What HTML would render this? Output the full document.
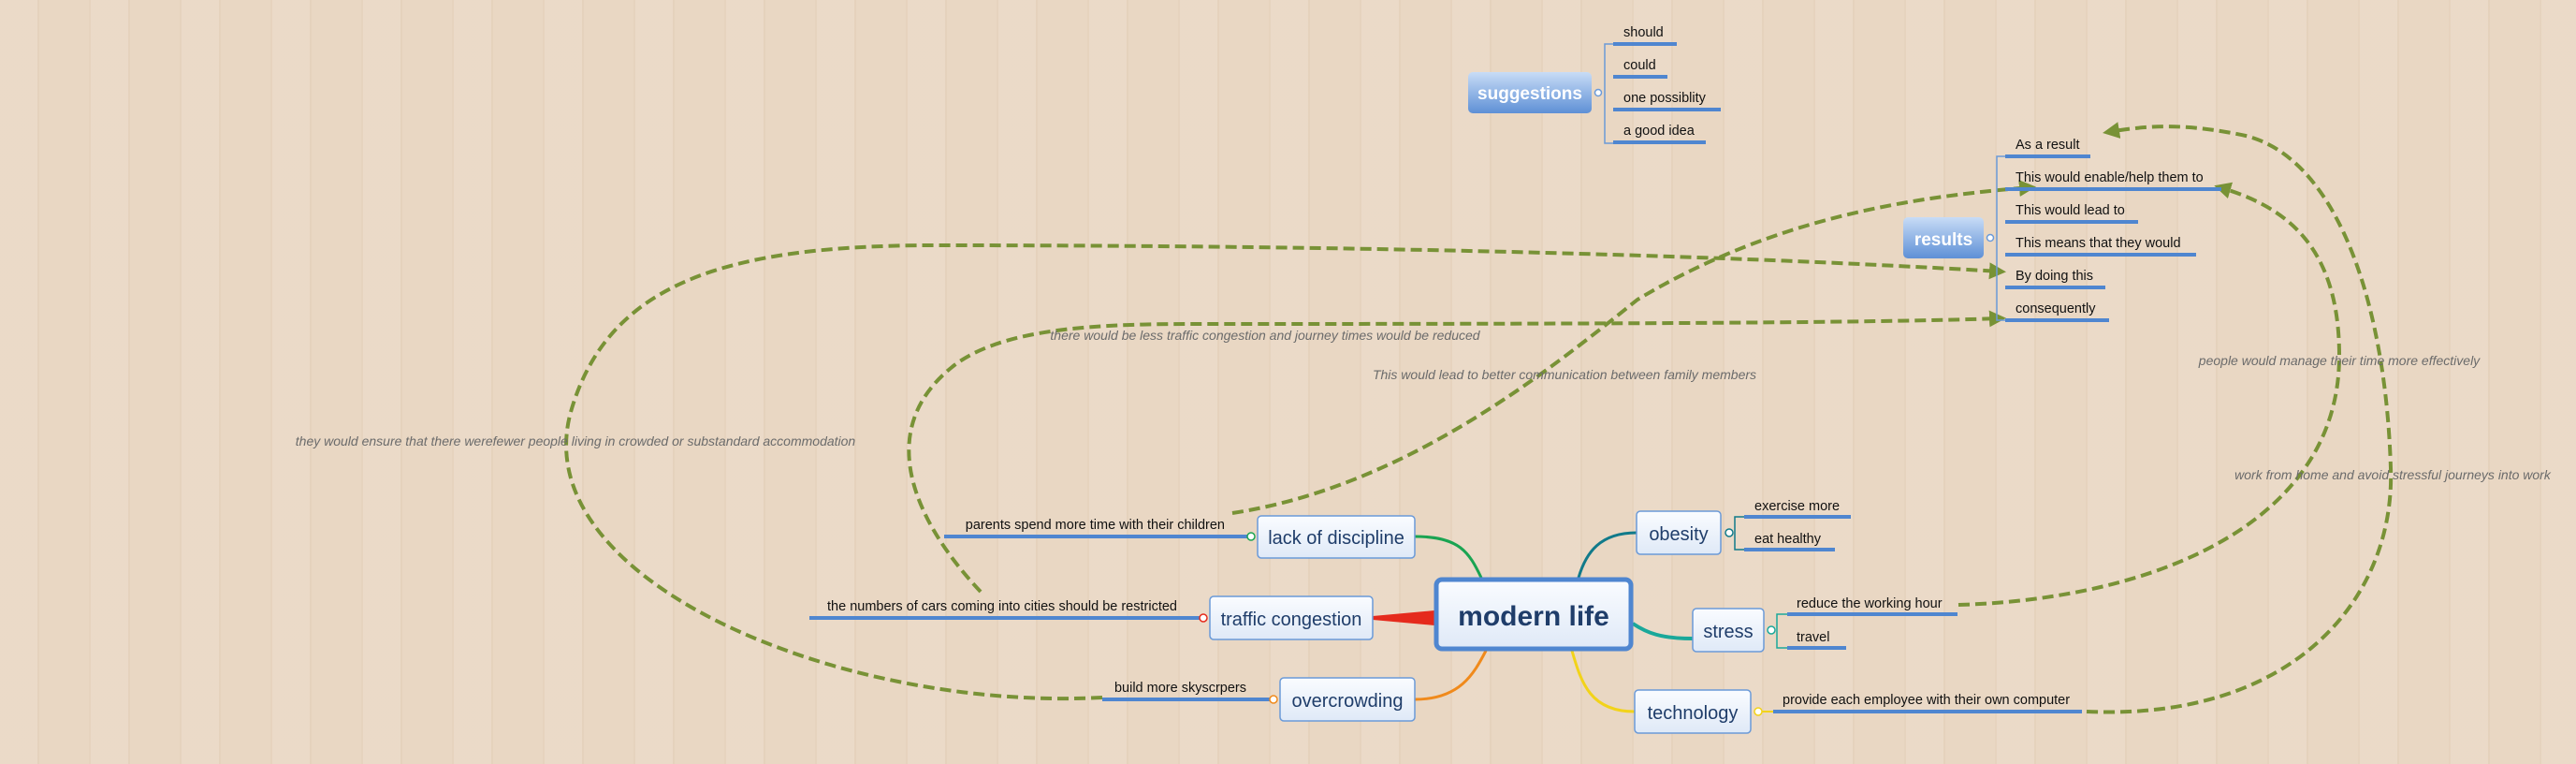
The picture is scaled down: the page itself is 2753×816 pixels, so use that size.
<!DOCTYPE html>
<html><head><meta charset="utf-8"><style>
html,body{margin:0;padding:0;width:2753px;height:816px;overflow:hidden;}
body{background:#e9d7c3;background-image:repeating-linear-gradient(90deg,rgba(255,255,255,0.08) 0 40px,rgba(150,110,70,0.05) 40px 42px,rgba(255,255,255,0) 42px 95px,rgba(150,110,70,0.04) 95px 97px);}
svg{position:absolute;left:0;top:0;font-family:"Liberation Sans",sans-serif;}
.s{font-size:14.5px;fill:#111;}
.b{font-size:20px;fill:#1f3d6a;text-anchor:middle;}
.l{font-size:14px;fill:#6b6b6b;font-style:italic;}
.u{stroke:#4f86d0;stroke-width:4;}
.d{fill:none;stroke:#789236;stroke-width:4;stroke-dasharray:12 6;}
</style></head><body>
<svg width="2753" height="816" viewBox="0 0 2753 816">
<defs>
<linearGradient id="g1" x1="0" y1="0" x2="0" y2="1"><stop offset="0" stop-color="#c8dcf6"/><stop offset="1" stop-color="#5e90d6"/></linearGradient>
<linearGradient id="g2" x1="0" y1="0" x2="0" y2="1"><stop offset="0" stop-color="#fafcff"/><stop offset="1" stop-color="#dfe9f7"/></linearGradient>
<marker id="a" markerWidth="4.5" markerHeight="4.5" refX="3" refY="2.25" orient="auto" markerUnits="strokeWidth"><path d="M0,0 L4.5,2.25 L0,4.5 z" fill="#789236"/></marker>
</defs>
<path class="d" marker-end="url(#a)" d="M1178,745 C900,760 560,620 610,440 C650,300 780,262 1000,262 C1400,262 1800,270 2138,290"/>
<path class="d" marker-end="url(#a)" d="M1048,632 C980,560 930,460 1020,390 C1080,345 1200,346 1300,346 C1700,346 2000,345 2138,340"/>
<path class="d" marker-end="url(#a)" d="M1317,548 C1500,520 1650,400 1750,320 C1900,230 2050,210 2170,200"/>
<path class="d" marker-end="url(#a)" d="M2093,646 C2300,640 2500,560 2500,380 C2500,260 2440,220 2372,200"/>
<path class="d" marker-end="url(#a)" d="M2230,760 C2450,770 2560,640 2555,500 C2550,330 2500,170 2400,145 C2330,130 2290,135 2253,141"/>
<text class="l" x="615" y="476" text-anchor="middle">they would ensure that there werefewer people living in crowded or substandard accommodation</text>
<text class="l" x="1352" y="363" text-anchor="middle">there would be less traffic congestion and journey times would be reduced</text>
<text class="l" x="1672" y="405" text-anchor="middle">This would lead to better communication between family members</text>
<text class="l" x="2500" y="390" text-anchor="middle">people would manage their time more effectively</text>
<text class="l" x="2557" y="512" text-anchor="middle">work from home and avoid stressful journeys into work</text>
<path d="M1512,573 C1560,573 1570,590 1583,617" stroke="#1aa452" stroke-width="3" fill="none"/>
<path d="M1467,658 L1533,652 L1533,668 L1467,662 z" fill="#e52a1c"/>
<path d="M1512,747 C1560,747 1575,720 1588,695" stroke="#f08a1c" stroke-width="3" fill="none"/>
<path d="M1749,569 C1710,569 1695,590 1687,617" stroke="#117a8a" stroke-width="3" fill="none"/>
<path d="M1809,682 C1775,682 1760,676 1745,666" stroke="#1aa89a" stroke-width="4" fill="none"/>
<path d="M1747,760 C1700,760 1690,730 1680,695" stroke="#f2d31a" stroke-width="3" fill="none"/>
<rect x="1535" y="619" width="208" height="74" rx="6" fill="url(#g2)" stroke="#4f86d0" stroke-width="5"/>
<text x="1639" y="668" font-size="30" font-weight="bold" fill="#1f3d6a" text-anchor="middle">modern life</text>
<rect x="1344" y="551" width="168" height="45" rx="4" fill="url(#g2)" stroke="#6b9ad8" stroke-width="1.5"/>
<text class="b" x="1428" y="581">lack of discipline</text>
<rect x="1293" y="637" width="174" height="46" rx="4" fill="url(#g2)" stroke="#6b9ad8" stroke-width="1.5"/>
<text class="b" x="1380" y="668">traffic congestion</text>
<rect x="1368" y="724" width="144" height="46" rx="4" fill="url(#g2)" stroke="#6b9ad8" stroke-width="1.5"/>
<text class="b" x="1440" y="755">overcrowding</text>
<rect x="1749" y="546" width="90" height="46" rx="4" fill="url(#g2)" stroke="#6b9ad8" stroke-width="1.5"/>
<text class="b" x="1794" y="577">obesity</text>
<rect x="1809" y="650" width="76" height="46" rx="4" fill="url(#g2)" stroke="#6b9ad8" stroke-width="1.5"/>
<text class="b" x="1847" y="681">stress</text>
<rect x="1747" y="737" width="124" height="46" rx="4" fill="url(#g2)" stroke="#6b9ad8" stroke-width="1.5"/>
<text class="b" x="1809" y="768">technology</text>
<line class="u" x1="1009" y1="573" x2="1335" y2="573"/><circle cx="1337" cy="573" r="4" fill="#fff" stroke="#1aa452" stroke-width="1.5"/>
<text class="s" x="1309" y="565" text-anchor="end">parents spend more time with their children</text>
<line class="u" x1="865" y1="660" x2="1284" y2="660"/><circle cx="1286" cy="660" r="4" fill="#fff" stroke="#e52a1c" stroke-width="1.5"/>
<text class="s" x="1258" y="652" text-anchor="end">the numbers of cars coming into cities should be restricted</text>
<line class="u" x1="1178" y1="747" x2="1359" y2="747"/><circle cx="1361" cy="747" r="4" fill="#fff" stroke="#f08a1c" stroke-width="1.5"/>
<text class="s" x="1332" y="739" text-anchor="end">build more skyscrpers</text>
<circle cx="1848" cy="569" r="4" fill="#fff" stroke="#117a8a" stroke-width="1.5"/>
<path d="M1864,552 L1854,552 L1854,587 L1864,587" stroke="#117a8a" stroke-width="1.5" fill="none"/>
<line class="u" x1="1864" y1="552" x2="1978" y2="552"/><text class="s" x="1875" y="545">exercise more</text>
<line class="u" x1="1864" y1="587" x2="1961" y2="587"/><text class="s" x="1875" y="580">eat healthy</text>
<circle cx="1893" cy="673" r="4" fill="#fff" stroke="#1aa89a" stroke-width="1.5"/>
<path d="M1910,656 L1899,656 L1899,692 L1910,692" stroke="#1aa89a" stroke-width="1.5" fill="none"/>
<line class="u" x1="1910" y1="656" x2="2092" y2="656"/><text class="s" x="1920" y="649">reduce the working hour</text>
<line class="u" x1="1910" y1="692" x2="1973" y2="692"/><text class="s" x="1920" y="685">travel</text>
<circle cx="1879" cy="760" r="4" fill="#fff" stroke="#f2d31a" stroke-width="1.5"/>
<line class="u" x1="1895" y1="760" x2="2225" y2="760"/><line x1="1883" y1="760" x2="1895" y2="760" stroke="#f2d31a" stroke-width="2"/>
<text class="s" x="1905" y="752">provide each employee with their own computer</text>
<rect x="1569" y="77" width="132" height="44" rx="5" fill="url(#g1)"/>
<text x="1635" y="106" font-size="19" font-weight="bold" fill="#fff" text-anchor="middle">suggestions</text>
<circle cx="1708" cy="99" r="3.5" fill="#fff" stroke="#6b9ad8" stroke-width="1.5"/>
<path d="M1724,47 L1715,47 L1715,153 L1724,153" stroke="#6b9ad8" stroke-width="1.5" fill="none"/>
<line class="u" x1="1724" y1="47" x2="1792" y2="47"/><text class="s" x="1735" y="39">should</text>
<line class="u" x1="1724" y1="82" x2="1782" y2="82"/><text class="s" x="1735" y="74">could</text>
<line class="u" x1="1724" y1="117" x2="1839" y2="117"/><text class="s" x="1735" y="109">one possiblity</text>
<line class="u" x1="1724" y1="152" x2="1823" y2="152"/><text class="s" x="1735" y="144">a good idea</text>
<rect x="2034" y="232" width="86" height="44" rx="5" fill="url(#g1)"/>
<text x="2077" y="262" font-size="19" font-weight="bold" fill="#fff" text-anchor="middle">results</text>
<circle cx="2127" cy="254" r="3.5" fill="#fff" stroke="#6b9ad8" stroke-width="1.5"/>
<path d="M2143,167 L2134,167 L2134,342 L2143,342" stroke="#6b9ad8" stroke-width="1.5" fill="none"/>
<line class="u" x1="2143" y1="167" x2="2234" y2="167"/><text class="s" x="2154" y="159">As a result</text>
<line class="u" x1="2143" y1="202" x2="2374" y2="202"/><text class="s" x="2154" y="194">This would enable/help them to</text>
<line class="u" x1="2143" y1="237" x2="2285" y2="237"/><text class="s" x="2154" y="229">This would lead to</text>
<line class="u" x1="2143" y1="272" x2="2347" y2="272"/><text class="s" x="2154" y="264">This means that they would</text>
<line class="u" x1="2143" y1="307" x2="2250" y2="307"/><text class="s" x="2154" y="299">By doing this</text>
<line class="u" x1="2143" y1="342" x2="2254" y2="342"/><text class="s" x="2154" y="334">consequently</text>
</svg>
</body></html>
